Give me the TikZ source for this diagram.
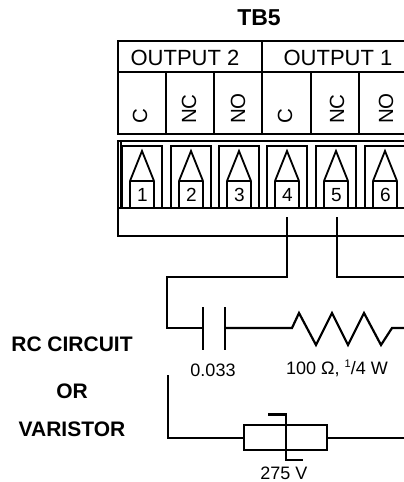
\documentclass[tikz,border=0pt]{standalone}
\usepackage{fontspec}
\setmainfont{Liberation Sans}
\tikzset{
  wire/.style={line width=2.2pt,line join=miter},
  thin wire/.style={line width=1.8pt},
  lab/.style={inner sep=0pt,font=\fontsize{18}{20}\selectfont},
  head/.style={inner sep=0pt,font=\fontsize{22}{24}\selectfont},
  term/.style={inner sep=0pt,font=\fontsize{19}{20}\selectfont},
  pin/.style={inner sep=0pt,rotate=90,font=\fontsize{20.5}{22}\selectfont,anchor=west},
  side/.style={inner sep=0pt,font=\fontsize{21}{24}\selectfont\bfseries},
}
\begin{document}
\begin{tikzpicture}[x=1pt,y=-1pt]
\useasboundingbox (0,0) rectangle (404,482);
\clip (0,0) rectangle (404,482);
\node[inner sep=0pt,font=\fontsize{23}{25}\selectfont\bfseries] (tb) at (259,18) {TB5};
% header
\draw[wire] (404,41) -- (118,41) -- (118,134) -- (404,134);
\draw[wire] (118,72) -- (404,72);
\draw[wire] (262,41) -- (262,72);
\foreach \x in {166,214,262,311,359} \draw[wire] (\x,72) -- (\x,134);
\node[head] (o2) at (185,58) {OUTPUT 2};
\node[head] (o1) at (338,58) {OUTPUT 1};
\foreach \x/\t/\n in {140/C/pa,189/NC/pb,238/NO/pc,285/C/pd,337/NC/pe,386/NO/pf}
  \node[pin] (\n) at (\x,124) {\t};
% terminal block
\draw[wire] (404,141) -- (118,141) -- (118,236) -- (404,236);
\draw[thin wire] (121,141) -- (121,208);
\draw[wire] (118,208) -- (404,208);
\foreach \x/\n in {122/1,171/2,219/3,267/4,316/5,365/6}{
  \draw[wire] (\x,208) -- (\x,146) -- (\x+40,146) -- (\x+40,208);
  \draw[thin wire,line join=miter] (\x+8,181) -- (\x+20,151) -- (\x+32,181);
  \draw[thin wire] (\x+8,181) -- (\x+32,181);
  \draw[wire] (\x+8,181) -- (\x+8,208);
  \draw[wire] (\x+32,181) -- (\x+32,208);
  \node[term] (t\n) at (\x+20.5,195) {\n};
}
% wires
\coordinate (w4) at (287,217);
\coordinate (w5) at (337,217);
\coordinate (r1) at (404,277);
\coordinate (r2) at (404,328);
\coordinate (r3) at (404,438);
\draw[wire] (w4) -- (287,277) -- (167,277) -- (167,328) -- (203,328);
\draw[wire] (w5) -- (337,277) -- (r1);
\draw[wire] (203,307) -- (203,350);
\draw[wire] (225,307) -- (225,350);
\draw[wire] (225,328) -- (292,328) -- (299,313) -- (316,345) -- (332,313) -- (348,345) -- (364,313) -- (381,345) -- (392,328) -- (r2);
\node[lab] (cv) at (213,370) {0.033};
\node[lab] (rv) at (337,368) {100 Ω, \raisebox{0.38em}{\fontsize{11}{12}\selectfont 1}/4 W};
% varistor
\draw[wire] (168,375) -- (168,438) -- (244,438);
\draw[wire] (244,425) rectangle (327,450);
\draw[wire] (327,438) -- (r3);
\draw[wire] (268,414.5) -- (286,414.5) -- (286,460) -- (303,460);
\node[lab] (vv) at (284,473.5) {275 V};
% side labels
\node[side] (s1) at (72,344) {RC CIRCUIT};
\node[side] (s2) at (72,391) {OR};
\node[side] (s3) at (72,429) {VARISTOR};
\end{tikzpicture}
\end{document}
